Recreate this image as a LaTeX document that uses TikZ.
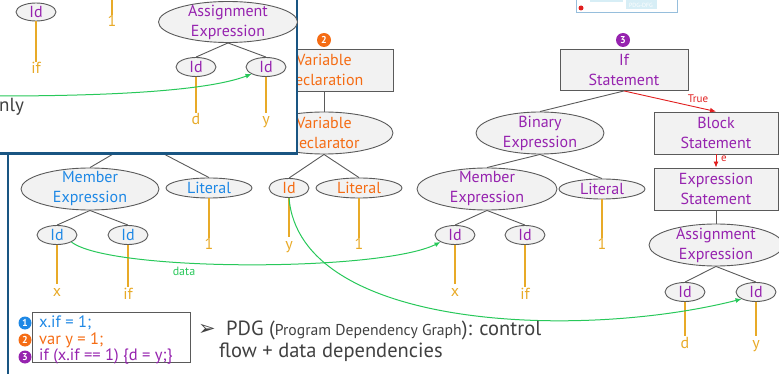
\documentclass[tikz,border=0pt]{standalone}
\usepackage{fontspec}
\setmainfont{PT Sans}
\newfontfamily\dejavu{DejaVu Sans}
\usetikzlibrary{arrows.meta,shapes.geometric}
\definecolor{cblue}{RGB}{30,136,229}
\definecolor{corange}{RGB}{245,108,20}
\definecolor{cpurple}{RGB}{150,35,175}
\definecolor{cgold}{RGB}{232,170,40}
\definecolor{cgreen}{RGB}{40,200,90}
\definecolor{cred}{RGB}{225,30,30}
\definecolor{cedge}{RGB}{90,90,90}
\definecolor{cfill}{RGB}{242,242,242}
\definecolor{cframe}{RGB}{25,85,130}
\definecolor{ctext}{RGB}{64,64,64}
\definecolor{clight}{RGB}{150,190,220}
\definecolor{ctab}{RGB}{215,238,246}
\begin{document}
\begin{tikzpicture}[x=1pt,y=-1pt,
  shp/.style={draw=cedge, fill=cfill, line width=0.9pt, inner sep=0pt},
  ell/.style={shp, ellipse},
  rbox/.style={shp, rectangle},
  lbl/.style={align=center, font=\fontsize{16}{20}\selectfont, inner sep=0pt},
  idnode/.style={ell, minimum width=40pt, minimum height=19pt},
  litnode/.style={ell, minimum width=86pt, minimum height=20pt},
  bignode/.style={ell, minimum width=138pt, minimum height=42pt},
  edge/.style={draw=cedge, line width=0.9pt},
  leaf/.style={draw=cgold, line width=1.1pt},
  leaftxt/.style={text=cgold, font=\fontsize{16}{18}\selectfont, inner sep=1pt, text height=11pt, text depth=3pt},
  dep/.style={draw=cgreen, line width=1pt, -{Latex[length=6pt,width=5pt]}},
  ctrl/.style={draw=cred, line width=0.9pt, -{Latex[length=6pt,width=5pt]}},
  badge/.style={circle, inner sep=0pt, minimum size=14pt, text=white, font=\fontsize{10}{10}\bfseries\selectfont},
  codetxt/.style={anchor=west, inner sep=0pt, font=\fontsize{16.5}{17}\selectfont},
  slidetxt/.style={anchor=west, text=ctext, font=\fontsize{20.5}{22}\selectfont, inner sep=0pt}
]
\useasboundingbox (0,0) rectangle (779,374);

% ---------- small box at top ----------
\fill[ctab] (590,-3) rectangle (623,2);
\fill[ctab] (626,-3) rectangle (657,9.5);
\node[text=white, font=\fontsize{6}{6}\selectfont, inner sep=0pt] (tabtxt) at (641,5) {PDG-DFG};
\draw[clight, line width=1pt] (576,-5) rectangle (677,12.5);
\fill[cred] (581,8) circle (2.5);

% ---------- tree 1 (blue) ----------
\coordinate (hid1) at (137,140);
\node[bignode, label={[lbl, text=cblue]center:Member\\Expression}] (me1) at (90,189) {};
\node[litnode, label={[lbl, text=cblue]center:Literal}] (lit1) at (209,188) {};
\node[idnode, label={[lbl, text=cblue]center:Id}] (id1x) at (57,235) {};
\node[idnode, label={[lbl, text=cblue]center:Id}] (id1if) at (128,235) {};
\node[leaftxt] (l1x) at (57,292) {x};
\node[leaftxt] (l1if) at (128,295) {if};
\node[leaftxt] (l1one) at (209,246) {1};
\draw[edge] (hid1) -- (me1.north);
\draw[edge] (hid1) -- (lit1.north);
\draw[edge] (me1.south) -- (id1x.north);
\draw[edge] (me1.south) -- (id1if.north);
\draw[leaf] (id1x) -- (l1x);
\draw[leaf] (id1if) -- (l1if);
\draw[leaf] (lit1) -- (l1one);

% ---------- tree 2 (orange) ----------
\node[badge, fill=corange] (b2) at (324,40) {2};
\node[rbox, minimum width=138pt, minimum height=42pt, label={[lbl, text=corange]center:Variable\\Declaration}] (vdecl) at (324,70) {};
\node[bignode, label={[lbl, text=corange]center:Variable\\Declarator}] (vdtor) at (324,133) {};
\node[idnode, label={[lbl, text=corange]center:Id}] (id2) at (289,188) {};
\node[litnode, label={[lbl, text=corange]center:Literal}] (lit2) at (359,188) {};
\node[leaftxt] (l2y) at (289,245) {y};
\node[leaftxt] (l2one) at (359,246) {1};
\draw[edge] (vdecl.south) -- (vdtor.north);
\draw[edge] (vdtor.south) -- (id2.north);
\draw[edge] (vdtor.south) -- (lit2.north);
\draw[leaf] (id2) -- (l2y);
\draw[leaf] (lit2) -- (l2one);

% ---------- tree 3 (purple) ----------
\node[badge, fill=cpurple] (b3) at (623,40) {3};
\node[rbox, minimum width=128pt, minimum height=41pt, label={[lbl, text=cpurple]center:If\\Statement}] (ifst) at (624,70) {};
\node[ell, minimum width=128pt, minimum height=42pt, label={[lbl, text=cpurple]center:Binary\\Expression}] (binexp) at (540,133) {};
\node[rbox, minimum width=124pt, minimum height=42pt, label={[lbl, text=cpurple]center:Block\\Statement}] (block) at (716,133) {};
\node[rbox, minimum width=124pt, minimum height=42pt, label={[lbl, text=cpurple]center:Expression\\Statement}] (exprst) at (716,189) {};
\node[ell, minimum width=134pt, minimum height=42pt, label={[lbl, text=cpurple]center:Assignment\\Expression}] (asg3) at (716,245) {};
\node[idnode, label={[lbl, text=cpurple]center:Id}] (id3d) at (685,292) {};
\node[idnode, label={[lbl, text=cpurple]center:Id}] (id3y) at (756,292) {};
\node[leaftxt] (l3d) at (685,344) {d};
\node[leaftxt] (l3y) at (756,344) {y};
\node[ell, minimum width=140pt, minimum height=42pt, label={[lbl, text=cpurple]center:Member\\Expression}] (me3) at (487,189) {};
\node[litnode, label={[lbl, text=cpurple]center:Literal}] (lit3) at (602,189) {};
\node[idnode, label={[lbl, text=cpurple]center:Id}] (id3x) at (455,235) {};
\node[idnode, label={[lbl, text=cpurple]center:Id}] (id3if) at (525,235) {};
\node[leaftxt] (l3x) at (455,292) {x};
\node[leaftxt] (l3if) at (525,295) {if};
\node[leaftxt] (l3one) at (602,246) {1};
\draw[edge] (ifst.south) -- (binexp.north);
\draw[ctrl] (ifst.south) -- (block.north);
\node[text=cred, font=\fontsize{11}{11}\selectfont, inner sep=0pt] (truelbl) at (698,99) {True};
\draw[ctrl] (block.south) -- (exprst.north);
\node[text=cred, font=\fontsize{11}{11}\selectfont, inner sep=0pt, anchor=west] (elbl) at (721,159) {e};
\draw[edge] (exprst.south) -- (asg3.north);
\draw[edge] (asg3.south) -- (id3d.north);
\draw[edge] (asg3.south) -- (id3y.north);
\draw[edge] (binexp.south) -- (me3.north);
\draw[edge] (binexp.south) -- (lit3.north);
\draw[edge] (me3.south) -- (id3x.north);
\draw[edge] (me3.south) -- (id3if.north);
\draw[leaf] (id3d) -- (l3d);
\draw[leaf] (id3y) -- (l3y);
\draw[leaf] (id3x) -- (l3x);
\draw[leaf] (id3if) -- (l3if);
\draw[leaf] (lit3) -- (l3one);

% ---------- data dependencies ----------
\draw[dep] (id1x.south east) .. controls (110,272) and (380,272) .. (id3x.south west);
\node[text=cgreen, font=\fontsize{12}{12}\selectfont, inner sep=0pt] (datalbl) at (184,271) {data};
\draw[dep] (id2.south) .. controls (300,330) and (580,340) .. (id3y.south west);

% ---------- inset ----------
\draw[cframe, line width=2.5pt, fill=white] (-6,-6) rectangle (297,153.5);
\draw[cframe, line width=2.5pt] (8,153.5) -- (8,380);
\node[idnode, minimum height=18pt, label={[lbl, text=cpurple]center:Id}] (iid) at (36,12) {};
\node[leaftxt] (ilif) at (36,70) {if};
\draw[leaf] (iid) -- (ilif);
\coordinate (itop) at (112,-3);
\node[leaftxt] (ilone) at (112,23) {1};
\draw[leaf] (itop) -- (ilone);
\node[ell, minimum width=139pt, minimum height=41pt, label={[lbl, text=cpurple]center:Assignment\\Expression}] (iasg) at (228,22) {};
\node[idnode, label={[lbl, text=cpurple]center:Id}] (iida) at (196,67) {};
\node[idnode, label={[lbl, text=cpurple]center:Id}] (iidb) at (266,67) {};
\node[leaftxt] (ild) at (196,121) {d};
\node[leaftxt] (ily) at (266,121) {y};
\draw[edge] (iasg.south) -- (iida.north);
\draw[edge] (iasg.south) -- (iidb.north);
\draw[leaf] (iida) -- (ild);
\draw[leaf] (iidb) -- (ily);
\coordinate (igs) at (-3,96);
\draw[dep] (igs) .. controls (120,96) and (210,90) .. (iidb.south west);
\node[anchor=west, text=ctext, font=\fontsize{19}{22}\selectfont, inner sep=0pt] (inly) at (-1,107) {nly};

% ---------- code box ----------
\node[draw=cedge, fill=white, line width=0.9pt, minimum width=158pt, minimum height=50pt, inner sep=0pt] (code) at (111,337) {};
\node[badge, fill=cblue, minimum size=13pt] (c1b) at (25,323) {1};
\node[badge, fill=corange, minimum size=13pt] (c2b) at (25,340) {2};
\node[badge, fill=cpurple, minimum size=13pt] (c3b) at (25,357) {3};
\node[codetxt, text=cblue] (c1) at (39,323) {x.if = 1;};
\node[codetxt, text=corange] (c2) at (39,340) {var y = 1;};
\node[codetxt, text=cpurple] (c3) at (39,357) {if (x.if == 1) \{d = y;\}};

% ---------- PDG text ----------
\node[text=ctext, font=\dejavu\fontsize{21}{21}\selectfont, inner sep=0pt] (arr) at (207,330) {➢};
\node[slidetxt] (pdg1) at (226,330) {PDG ({\fontsize{15.7}{16}\selectfont Program Dependency Graph}): control};
\node[slidetxt] (pdg2) at (219,352) {flow + data dependencies};
\end{tikzpicture}
\end{document}
